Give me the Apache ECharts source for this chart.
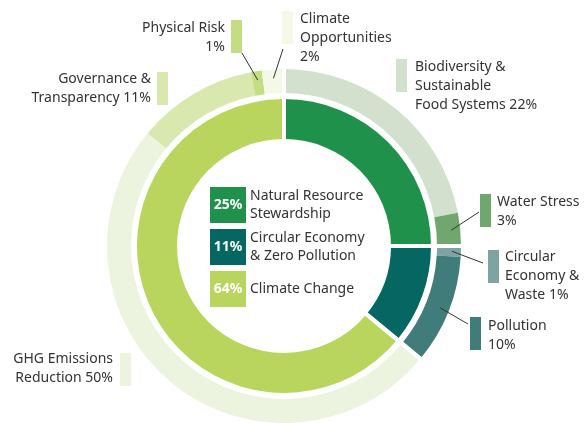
<!DOCTYPE html>
<html>
<head>
<meta charset="utf-8">
<script src="https://cdn.jsdelivr.net/npm/echarts@6/dist/echarts.min.js"></script>
<style>html,body{margin:0;padding:0;background:#fff}#chart{width:586px;height:423px}</style>
</head>
<body>
<div id="chart"></div>
<script>
// inner ring: three pillars
const groupNames=['Natural Resource\nStewardship','Circular Economy\n& Zero Pollution','Climate Change'];
const groupValues=[25,11,64];
const groupColors=['#20914a','#066762','#b9d55e'];
// outer ring: topics
const subNames=['Biodiversity &\nSustainable\nFood Systems','Water Stress\n','Circular\nEconomy &\nWaste','Pollution\n','GHG Emissions\nReduction','Governance &\nTransparency','Physical Risk\n','Climate\nOpportunities\n'];
const subValues=[22,3,1,10,50,11,1,2];
const subColors=['#d3e0cd','#70a76f','#7fa3a2','#3f7c7a','#ecf4df','#d9e8af','#c4dd85','#f3f8e7'];

// label placement (style only)
const textPos=[[415,58,'left'],[497,193,'left'],[505,248,'left'],[488,317,'left'],[113,350,'right'],[151,70,'right'],[225,19,'right'],[300,10,'left']];
const swatchPos=[[396,59],[480,194],[488,250],[470,317],[120,353],[157,72],[231,20],[282,11]];
const lineEnd=[null,[479,212],[483,263],[468,324],null,null,[242,53],[283,49]];
const boxY=[205,247,289];

const FONT='"Noto Sans", sans-serif';
const center=[284,246];
const tot=subValues.reduce((a,b)=>a+b,0);
function midPoint(i,r){
 let cum=0;for(let k=0;k<i;k++)cum+=subValues[k];
 const a=(90-360*(cum+subValues[i]/2)/tot)*Math.PI/180;
 return [center[0]+r*Math.cos(a),center[1]-r*Math.sin(a)];
}
function subLabel(i){
 const n=subNames[i];
 return n.endsWith('\n')?n+subValues[i]+'%':n+' '+subValues[i]+'%';
}

var chart=echarts.init(document.getElementById('chart'));
chart.setOption({
 animation:false,
 series:[
  {
   type:'pie',center:center,radius:[107,147],silent:true,
   emphasis:{disabled:true},
   label:{show:true,position:'inside',formatter:'{c}%',color:'#fff',fontWeight:'bold',fontSize:14,fontFamily:FONT,
    width:36,height:36,lineHeight:36,align:'center'},
   labelLine:{show:false},
   labelLayout:p=>({x:228,y:boxY[p.dataIndex],align:'center',verticalAlign:'middle'}),
   data:groupValues.map((v,i)=>({value:v,name:groupNames[i],itemStyle:{color:groupColors[i]},label:{backgroundColor:groupColors[i]}}))
  },
  {
   type:'pie',center:center,radius:[153,177],silent:true,
   emphasis:{disabled:true},
   label:{show:false},labelLine:{show:false},
   data:subValues.map((v,i)=>({value:v,name:subNames[i],itemStyle:{color:subColors[i]}}))
  },
  {
   // white separators between pillars, plus the centre names
   type:'pie',center:center,radius:[101,192],silent:true,z:3,
   emphasis:{disabled:true},
   itemStyle:{color:'rgba(0,0,0,0)',borderColor:'#fff',borderWidth:4},
   label:{show:true,position:'inside',formatter:'{b}',color:'#333',fontSize:14,lineHeight:18,fontFamily:FONT},
   labelLine:{show:false},
   labelLayout:p=>({x:250,y:boxY[p.dataIndex],align:'left',verticalAlign:'middle'}),
   data:groupValues.map((v,i)=>({value:v,name:groupNames[i]}))
  },
  {
   // colour swatches + leader lines
   type:'pie',center:center,radius:[153,177],silent:true,z:4,avoidLabelOverlap:false,
   emphasis:{disabled:true},
   itemStyle:{color:'rgba(0,0,0,0)'},
   label:{show:true,position:'outside',formatter:' ',width:11,height:33,padding:0,fontSize:1},
   labelLine:{show:true,lineStyle:{color:'#333',width:1}},
   labelLayout:p=>{
    const i=p.dataIndex;
    const o={x:swatchPos[i][0],y:swatchPos[i][1],align:'left',verticalAlign:'top'};
    if(lineEnd[i])o.labelLinePoints=[midPoint(i,168),lineEnd[i],lineEnd[i]];
    return o;
   },
   data:subValues.map((v,i)=>({value:v,name:subNames[i],label:{backgroundColor:subColors[i]},labelLine:{show:!!lineEnd[i]}}))
  },
  {
   // outer texts
   type:'pie',center:center,radius:[153,177],silent:true,z:4,avoidLabelOverlap:false,
   emphasis:{disabled:true},
   itemStyle:{color:'rgba(0,0,0,0)'},
   label:{show:true,position:'inside',formatter:p=>subLabel(p.dataIndex),color:'#333',fontSize:14,lineHeight:19,fontFamily:FONT},
   labelLine:{show:false},
   labelLayout:p=>{
    const t=textPos[p.dataIndex];
    return {x:t[0],y:t[1],align:t[2],verticalAlign:'top'};
   },
   data:subValues.map((v,i)=>({value:v,name:subNames[i]}))
  }
 ]
});
</script>
</body>
</html>
